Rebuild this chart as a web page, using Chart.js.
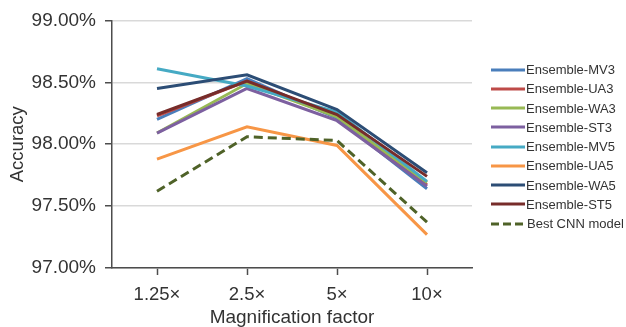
<!DOCTYPE html>
<html>
<head>
<meta charset="utf-8">
<script src="https://cdn.jsdelivr.net/npm/chart.js@4/dist/chart.umd.min.js"></script>
<style>
  html, body { margin: 0; padding: 0; background: #fff; }
  #wrap { position: relative; width: 626px; height: 327px; }
  #c { position: absolute; left: 0; top: 0; }
  #legend { position: absolute; left: 491px; top: 60px; font-family: "Liberation Sans", Arial, sans-serif; font-size: 13px; color: #333; }
  .item { display: flex; align-items: center; height: 19.25px; white-space: nowrap; }
  .item svg { width: 34px; height: 4px; margin-right: 1px; flex: none; }
</style>
</head>
<body>
<div id="wrap">
  <canvas id="c" width="626" height="327"></canvas>
  <div id="legend"></div>
</div>
<script>
const categories = ["1.25\u00d7", "2.5\u00d7", "5\u00d7", "10\u00d7"];
const seriesNames = ["Ensemble-MV3", "Ensemble-UA3", "Ensemble-WA3", "Ensemble-ST3",
                     "Ensemble-MV5", "Ensemble-UA5", "Ensemble-WA5", "Ensemble-ST5", "Best CNN model"];
const mv3 = [98.20, 98.53, 98.21, 97.64];
const ua3 = [98.23, 98.51, 98.23, 97.67];
const wa3 = [98.09, 98.49, 98.22, 97.69];
const st3 = [98.09, 98.45, 98.19, 97.66];
const mv5 = [98.61, 98.47, 98.26, 97.70];
const ua5 = [97.88, 98.14, 97.99, 97.27];
const wa5 = [98.45, 98.56, 98.28, 97.77];
const st5 = [98.24, 98.51, 98.24, 97.74];
const bestCnn = [97.62, 98.06, 98.03, 97.37];
const yTicks = [97.0, 97.5, 98.0, 98.5, 99.0];

const seriesValues = [mv3, ua3, wa3, st3, mv5, ua5, wa5, st5, bestCnn];
const colors = ["#4a7ebb", "#be4b48", "#98b954", "#7d60a0", "#46aac4", "#f79646", "#2c4d75", "#772c2a", "#4f6228"];

const datasets = seriesNames.map((name, i) => ({
  label: name,
  data: seriesValues[i],
  borderColor: colors[i],
  backgroundColor: colors[i],
  borderWidth: 3,
  borderDash: i === 8 ? [9, 5] : [],
  pointRadius: 0,
  tension: 0,
  fill: false,
  order: -i
}));

const FONT = "'Liberation Sans', Arial, sans-serif";

const chart = new Chart(document.getElementById('c'), {
  type: 'line',
  data: { labels: categories, datasets },
  options: {
    responsive: false,
    animation: false,
    devicePixelRatio: 1,
    layout: { padding: { top: 20, right: 154, bottom: 0, left: 0 } },
    plugins: { legend: { display: false }, tooltip: { enabled: false } },
    scales: {
      x: {
        type: 'category',
        offset: true,
        grid: { display: true, drawOnChartArea: false, tickLength: 7, tickColor: '#4d4d4d', tickWidth: 1.5 },
        border: { display: true, color: '#4d4d4d', width: 1.5 },
        ticks: { color: '#333', font: { family: FONT, size: 18.5 }, padding: 9, maxRotation: 0 },
        title: { display: true, text: 'Magnification factor', color: '#333', font: { family: FONT, size: 19, lineHeight: 1 }, padding: { top: 0, bottom: 0 } },
        afterFit: (s) => { s.height = 59; }
      },
      y: {
        min: 97, max: 99,
        afterBuildTicks: (s) => { s.ticks = yTicks.map(v => ({ value: v })); },
        grid: { color: '#d9d9d9', lineWidth: 1.5, tickLength: 7, tickColor: '#4d4d4d', tickWidth: 1.5 },
        border: { display: true, color: '#4d4d4d', width: 1.5 },
        ticks: { color: '#333', font: { family: FONT, size: 19 }, padding: 9, callback: (v) => Number(v).toFixed(2) + '%' },
        title: { display: true, text: 'Accuracy', color: '#333', font: { family: FONT, size: 18.5, lineHeight: 1.2 }, padding: { top: 7, bottom: 0 } },
        afterFit: (s) => { s.width = 112; }
      }
    }
  }
});

const legendEl = document.getElementById('legend');
chart.data.datasets.forEach((ds) => {
  const row = document.createElement('div');
  row.className = 'item';
  const dashed = ds.borderDash.length > 0;
  const dash = dashed ? 'stroke-dasharray="8,4"' : '';
  row.innerHTML = '<svg viewBox="0 0 34 4"><line x1="0" y1="2" x2="' + (dashed ? 32 : 34) + '" y2="2" stroke="' + ds.borderColor + '" stroke-width="3" ' + dash + '/></svg>';
  const span = document.createElement('span');
  span.textContent = ds.label;
  if (dashed) span.style.marginLeft = '1px';
  row.appendChild(span);
  legendEl.appendChild(row);
});
</script>
</body>
</html>
